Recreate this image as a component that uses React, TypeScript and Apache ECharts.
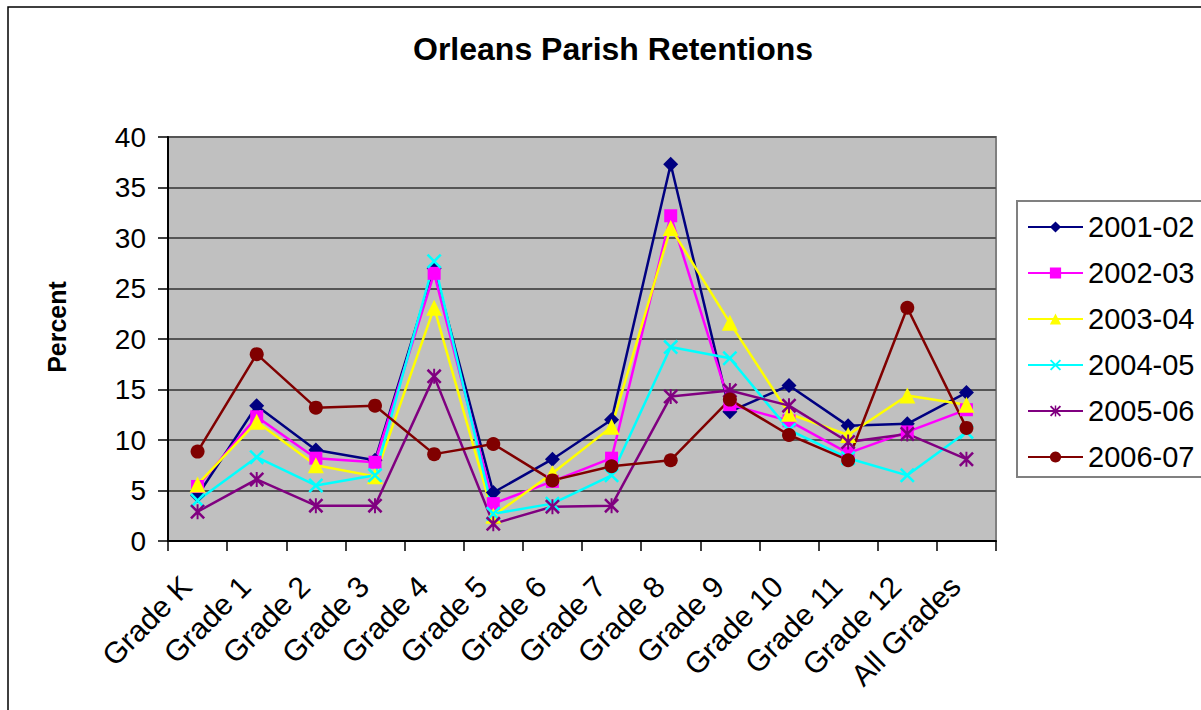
import React, { useEffect, useRef } from "react";
import * as echarts from "echarts";

const categories = [
  "Grade K", "Grade 1", "Grade 2", "Grade 3", "Grade 4", "Grade 5", "Grade 6",
  "Grade 7", "Grade 8", "Grade 9", "Grade 10", "Grade 11", "Grade 12", "All Grades",
];
const seriesNames = ["2001-02", "2002-03", "2003-04", "2004-05", "2005-06", "2006-07"];
const v2001 = [4.5, 13.4, 9.0, 8.0, 27.0, 4.8, 8.1, 12.0, 37.3, 12.8, 15.4, 11.4, 11.6, 14.7];
const v2002 = [5.4, 12.3, 8.2, 7.8, 26.5, 3.7, 5.9, 8.2, 32.2, 13.5, 11.9, 8.7, 10.8, 13.0];
const v2003 = [5.6, 11.8, 7.5, 6.4, 23.1, 2.5, 6.7, 11.3, 31.0, 21.6, 12.6, 10.5, 14.4, 13.5];
const v2004 = [4.0, 8.3, 5.5, 6.5, 27.7, 2.7, 3.7, 6.5, 19.2, 18.1, 11.0, 8.2, 6.5, 10.8];
const v2005 = [2.9, 6.1, 3.5, 3.5, 16.3, 1.7, 3.4, 3.5, 14.3, 14.9, 13.4, 9.8, 10.6, 8.1];
const v2006 = [8.85, 18.5, 13.2, 13.4, 8.6, 9.6, 6.0, 7.4, 8.0, 14.0, 10.5, 8.0, 23.1, 11.2];
const seriesValues = [v2001, v2002, v2003, v2004, v2005, v2006];

const colors = ["#000080", "#FF00FF", "#FFFF00", "#00FFFF", "#800080", "#800000"];
const crossPath =
  "path://M0,1.2 L1.2,0 L10,8.8 L8.8,10 Z M8.8,0 L10,1.2 L1.2,10 L0,8.8 Z";
const starPath =
  "path://M0,1.2 L1.2,0 L10,8.8 L8.8,10 Z M8.8,0 L10,1.2 L1.2,10 L0,8.8 Z M4.35,0 L5.65,0 L5.65,10 L4.35,10 Z";
const symbols = ["diamond", "rect", "triangle", crossPath, starPath, "circle"];
const symbolSizes = [15, 13, 16, 15, 15, 14];

const FONT = "'Liberation Sans', Arial, sans-serif";

export default function App() {
  const ref = useRef<HTMLDivElement>(null);
  useEffect(() => {
    if (!ref.current) return;
    const chart = echarts.init(ref.current, undefined, { renderer: "svg" });
    chart.setOption({
      animation: false,
      backgroundColor: "#ffffff",
      title: {
        text: "Orleans Parish Retentions",
        left: 413,
        top: 33,
        padding: 0,
        textStyle: { fontFamily: FONT, fontSize: 32, fontWeight: "bold", color: "#000" },
      },
      graphic: [
        {
          type: "rect",
          z: 0,
          shape: { x: 8, y: 7, width: 1400, height: 900 },
          style: { fill: "none", stroke: "#000", lineWidth: 1.5 },
        },
        {
          type: "rect",
          z: 1,
          shape: { x: 1017, y: 201, width: 260, height: 276 },
          style: { fill: "#ffffff", stroke: "#808080", lineWidth: 2 },
        },
        {
          type: "text",
          z: 5,
          x: 57,
          y: 327,
          rotation: Math.PI / 2,
          style: {
            text: "Percent",
            fontFamily: FONT,
            fontSize: 25,
            fontWeight: "bold",
            fill: "#000",
            align: "center",
            verticalAlign: "middle",
          },
        },
      ],
      legend: {
        orient: "vertical",
        left: 1027,
        top: 212,
        padding: 0,
        itemWidth: 55,
        itemHeight: 14,
        itemGap: 16,
        z: 10,
        data: seriesNames,
        textStyle: { fontFamily: FONT, fontSize: 29, color: "#000", lineHeight: 30 },
      },
      grid: {
        left: 168,
        top: 137,
        right: 205,
        bottom: 169,
        show: true,
        backgroundColor: "#C0C0C0",
        borderColor: "#808080",
        borderWidth: 2,
      },
      xAxis: {
        type: "category",
        data: categories,
        boundaryGap: true,
        axisLine: { lineStyle: { color: "#000", width: 2 } },
        axisTick: { show: true, length: 10, lineStyle: { color: "#000", width: 1.5 } },
        axisLabel: {
          interval: 0,
          rotate: 45,
          margin: 29,
          padding: [0, 16, 0, 0],
          fontFamily: FONT,
          fontSize: 30,
          color: "#000",
        },
        splitLine: { show: false },
      },
      yAxis: {
        type: "value",
        min: 0,
        max: 40,
        interval: 5,
        axisLine: { show: true, lineStyle: { color: "#000", width: 2 } },
        axisTick: { show: true, length: 10, lineStyle: { color: "#000", width: 1.5 } },
        axisLabel: { margin: 22, fontFamily: FONT, fontSize: 28, color: "#000" },
        splitLine: { show: true, lineStyle: { color: "#555", width: 2 } },
      },
      series: seriesNames.map((name, i) => ({
        name,
        type: "line",
        data: seriesValues[i],
        symbol: symbols[i],
        symbolSize: symbolSizes[i],
        symbolKeepAspect: true,
        showAllSymbol: true,
        lineStyle: { color: colors[i], width: 2.5 },
        itemStyle: { color: colors[i], borderWidth: 0 },
        emphasis: { disabled: true },
      })),
    });
    return () => chart.dispose();
  }, []);
  return (
    <div
      ref={ref}
      style={{ position: "fixed", left: 0, top: 0, width: 1201, height: 710 }}
    />
  );
}
